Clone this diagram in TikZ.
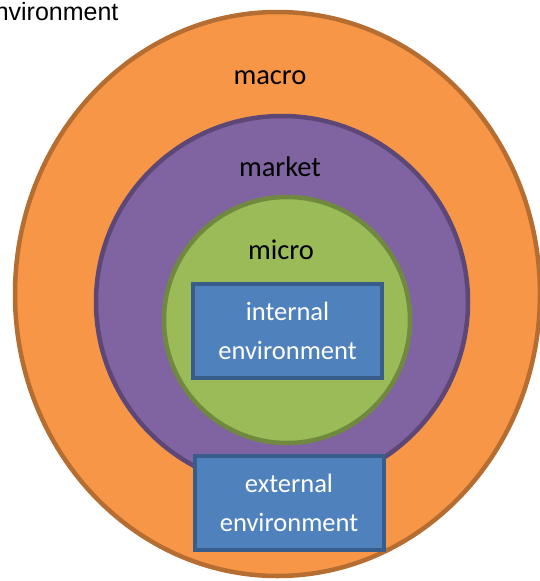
\documentclass[tikz,border=0pt]{standalone}
\usepackage{fontspec}
\setmainfont{Carlito}
\newfontfamily\arialfont{Liberation Sans}
\usetikzlibrary{positioning}

\definecolor{macrofill}{HTML}{F79646}
\definecolor{macroline}{HTML}{B66D31}
\definecolor{marketfill}{HTML}{8064A2}
\definecolor{marketline}{HTML}{5C4776}
\definecolor{microfill}{HTML}{9BBB59}
\definecolor{microline}{HTML}{71893F}
\definecolor{envfill}{HTML}{4F81BD}
\definecolor{envline}{HTML}{385D8A}

\tikzset{
    ring/.style={line width=4.5pt},
    ringlabel/.style={font=\fontsize{28.5}{34}\selectfont},
    envbox/.style={draw=envline,fill=envfill,line width=4pt,
        minimum width=189pt,minimum height=94pt,align=center,
        text=white,font=\fontsize{26.5}{39}\selectfont}
}

\begin{document}
\begin{tikzpicture}[x=1pt,y=-1pt]
    \useasboundingbox (0,0) rectangle (540,581);

    % the three rings
    \draw[ring,draw=macroline,fill=macrofill] (277.5,294) ellipse [x radius=262.5,y radius=282];
    \draw[ring,draw=marketline,fill=marketfill] (282,302) circle [radius=186];
    \draw[ring,draw=microline,fill=microfill] (287,320) circle [radius=123];

    \node[ringlabel] (macro) at (270,78) {macro};
    \node[ringlabel] (market) at (280,167) {market};
    \node[ringlabel] (micro) at (281,250) {micro};

    % the two boxes
    \node[envbox] (internal) at (287.5,331) {internal\\environment};
    \node[envbox] (external) at (289,503) {external\\environment};

    \node[font=\arialfont\fontsize{25}{30}\selectfont,anchor=base east] (title) at (122,20) {environment};
\end{tikzpicture}
\end{document}
